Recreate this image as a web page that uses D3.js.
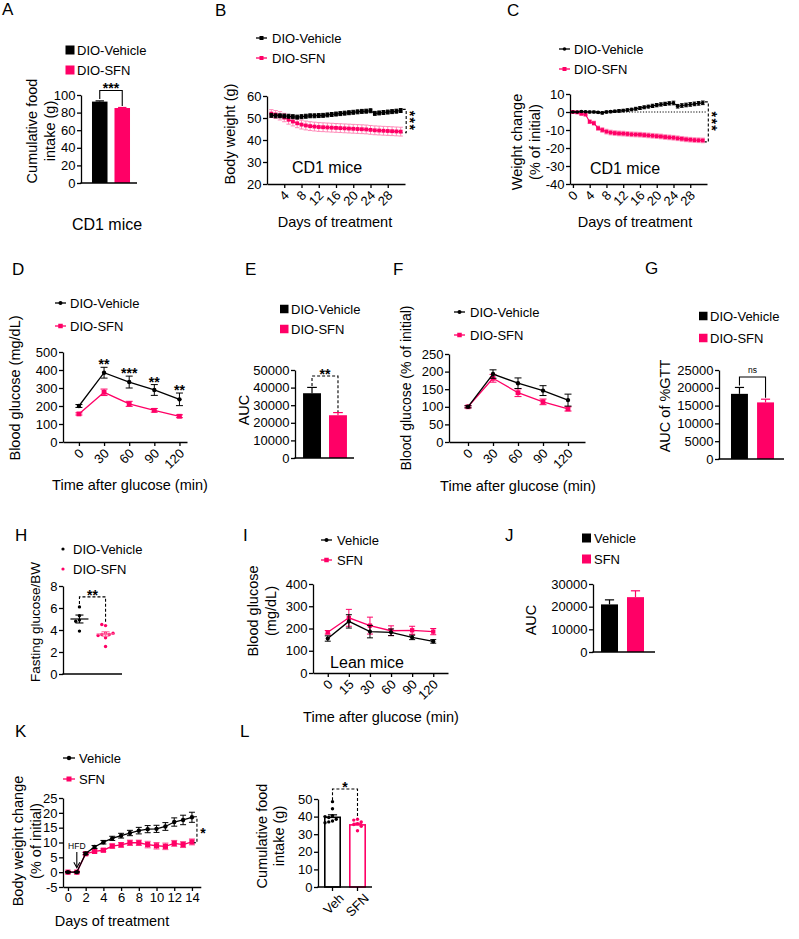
<!DOCTYPE html>
<html><head><meta charset="utf-8">
<script src="https://cdn.jsdelivr.net/npm/d3@7"></script>
<style>
html,body{margin:0;padding:0;background:#fff;}
svg{display:block;}
</style></head><body>
<script>
// ---------------- DATA ----------------
// Panel A
const aGroups = ["DIO-Vehicle", "DIO-SFN"];
const aMeans = [92.5, 85.2];
const aSEM = [0.8, 0.6];
const aYTicks = [0, 20, 40, 60, 80, 100];
// Panel B
const bDays = [1,2,3,4,5,6,7,8,9,10,11,12,13,14,15,16,17,18,19,20,21,22,23,24,25,26,27,28,29,30,31];
const bVehicle = [51.2,51.0,51.0,50.9,50.8,50.6,50.4,50.6,50.8,51.0,51.0,51.1,51.2,51.4,51.6,51.8,52.0,52.2,52.4,52.6,52.8,53.0,53.1,53.3,52.1,52.3,52.5,52.7,52.9,53.1,53.4];
const bVehicleSEM = [0.9,0.9,0.9,0.9,0.9,0.9,0.9,0.9,0.9,0.9,0.9,0.9,0.9,0.9,0.9,0.9,0.9,0.9,0.9,0.9,0.9,0.9,0.9,0.9,0.9,0.9,0.9,0.9,0.9,0.9,0.9];
const bSFN = [52.0,51.6,51.0,50.2,49.2,48.4,47.6,47.0,46.6,46.3,46.1,45.9,45.8,45.7,45.6,45.5,45.4,45.3,45.2,45.1,45.0,44.9,44.8,44.6,44.4,44.3,44.2,44.1,44.0,43.9,43.8];
const bSFNSEM = [1.8,1.8,1.9,1.9,2.0,2.0,2.0,2.0,2.0,2.0,2.0,2.0,2.0,2.0,2.0,2.0,2.0,2.0,2.0,2.0,2.0,2.0,2.0,2.0,2.0,2.0,2.0,2.0,2.0,2.0,2.0];
const bXTicks = [4, 8, 12, 16, 20, 24, 28];
const bYTicks = [20, 30, 40, 50, 60];
// Panel C
const cDays = [0,1,2,3,4,5,6,7,8,9,10,11,12,13,14,15,16,17,18,19,20,21,22,23,24,25,26,27,28,29,30,31];
const cVehicle = [0,0,0.3,0.1,0,0,-0.2,-0.5,0,0.2,0.4,0.6,0.8,1.1,1.4,1.8,2.2,2.6,3.0,3.4,3.8,4.2,4.5,4.8,5.0,3.2,3.6,3.9,4.2,4.5,4.8,5.1];
const cVehicleSEM = [0.3,0.3,0.4,0.4,0.5,0.5,0.5,0.6,0.6,0.6,0.6,0.7,0.7,0.7,0.7,0.8,0.8,0.8,0.8,0.9,0.9,0.9,0.9,0.9,1.0,1.0,1.0,1.0,1.0,1.0,1.0,1.0];
const cSFN = [0,-0.2,-1.0,-1.4,-5.4,-6.2,-9.0,-10.0,-10.9,-11.4,-11.7,-11.9,-12.0,-12.2,-12.4,-12.5,-12.6,-12.8,-13.0,-13.2,-13.4,-13.6,-13.9,-14.1,-14.3,-14.6,-14.9,-15.2,-15.4,-15.6,-15.7,-15.8];
const cSFNSEM = [0.3,0.4,0.6,0.7,1.0,1.1,1.2,1.3,1.3,1.3,1.3,1.3,1.3,1.3,1.3,1.3,1.3,1.3,1.3,1.3,1.3,1.3,1.3,1.3,1.3,1.3,1.3,1.3,1.3,1.3,1.3,1.3];
const cXTicks = [0, 4, 8, 12, 16, 20, 24, 28];
const cYTicks = [-40, -30, -20, -10, 0, 10];
// Panel D
const dTimes = [0, 30, 60, 90, 120];
const dVehicle = [200, 385, 333, 289, 237];
const dVehicleSEM = [8, 30, 33, 30, 35];
const dSFN = [156, 276, 212, 176, 143];
const dSFNSEM = [6, 18, 14, 10, 8];
const dStars = ["", "**", "***", "**", "**"];
const dYTicks = [0, 100, 200, 300, 400, 500];
// Panel E
const eGroups = ["DIO-Vehicle", "DIO-SFN"];
const eMeans = [36800, 24300];
const eSEM = [3300, 1500];
const eYTicks = [0, 10000, 20000, 30000, 40000, 50000];
// Panel F
const fTimes = [0, 30, 60, 90, 120];
const fVehicle = [100, 193, 167, 146, 119];
const fVehicleSEM = [3, 12, 15, 14, 17];
const fSFN = [100, 181, 140, 114, 94];
const fSFNSEM = [3, 11, 11, 8, 6];
const fYTicks = [0, 50, 100, 150, 200, 250];
// Panel G
const gGroups = ["DIO-Vehicle", "DIO-SFN"];
const gMeans = [18300, 15900];
const gSEM = [1800, 900];
const gYTicks = [0, 5000, 10000, 15000, 20000, 25000];
// Panel H
const hGroups = ["DIO-Vehicle", "DIO-SFN"];
const hVehicle = [6.1, 5.3, 4.9, 4.8, 3.9];
const hSFN = [4.4, 4.5, 3.7, 3.6, 3.6, 3.5, 3.3, 2.5, 3.7];
const hMeans = [5.0, 3.64];
const hSEM = [0.36, 0.2];
const hYTicks = [0, 2, 4, 6, 8];
// Panel I
const iTimes = ["0", "15", "30", "60", "90", "120"];
const iVehicle = [155, 232, 186, 183, 160, 142];
const iVehicleSEM = [12, 30, 28, 15, 10, 8];
const iSFN = [183, 248, 213, 190, 192, 186];
const iSFNSEM = [8, 38, 38, 22, 18, 14];
const iYTicks = [0, 100, 200, 300, 400];
// Panel J
const jGroups = ["Vehicle", "SFN"];
const jMeans = [21000, 24200];
const jSEM = [2000, 2800];
const jYTicks = [0, 10000, 20000, 30000];
// Panel K
const kDays = [0,1,2,3,4,5,6,7,8,9,10,11,12,13,14];
const kVehicle = [0,0,6.3,8.5,10.1,11.4,12.3,13.2,14.0,14.5,14.6,15.4,16.9,17.6,18.5];
const kVehicleSEM = [0.2,0.2,0.4,0.5,0.6,0.7,0.8,0.9,1.1,1.2,1.2,1.3,1.4,1.6,1.7];
const kSFN = [0,0,6.2,7.0,7.4,8.8,9.2,9.9,9.9,9.3,8.9,8.7,9.7,9.3,10.2];
const kSFNSEM = [0.2,0.2,0.4,0.5,0.5,0.7,0.8,0.9,0.9,1.1,1.1,1.1,1.0,1.0,1.0];
const kXTicks = [0, 2, 4, 6, 8, 10, 12, 14];
const kYTicks = [-5, 0, 5, 10, 15, 20, 25];
// Panel L
const lGroups = ["Veh", "SFN"];
const lMeans = [39.6, 35.3];
const lSEM = [1.4, 0.9];
const lVehDots = [48.5, 44.5, 40.5, 39.5, 38.5, 37.5, 37.0, 36.5, 40.0];
const lSFNDots = [38.5, 38.0, 37.0, 36.0, 35.5, 34.5, 32.0];
const lYTicks = [0, 10, 20, 30, 40, 50];

// ---------------- DRAWING ----------------
const FONT = "'Liberation Sans', Arial, Helvetica, sans-serif";
const BLACK = "#000000";
const PINK = "#ff0066";
const svg = d3.select("body").append("svg").attr("width", 799).attr("height", 939)
  .style("font-family", FONT);

function text(x, y, s, o = {}) {
  const t = svg.append("text").attr("x", x).attr("y", y).text(s)
    .attr("font-size", o.size || 13).attr("fill", o.fill || BLACK)
    .attr("text-anchor", o.anchor || "start");
  if (o.weight) t.attr("font-weight", o.weight);
  if (o.dy) t.attr("dy", o.dy);
  if (o.ls) t.attr("letter-spacing", o.ls);
  if (o.rot) t.attr("transform", `rotate(${o.rot},${x},${y})`);
  return t;
}
function vTitle(x, y, s, size = 14.5) { return text(x, y, s, {size, anchor: "middle", dy: "0.35em", rot: -90}); }
function hTitle(x, y, s, size = 14.5) { return text(x, y, s, {size, anchor: "middle", dy: "0.35em"}); }
function pLabel(s, x, y) { return text(x, y, s, {size: 17}); }

function styleAxis(g) {
  g.attr("font-family", FONT).attr("font-size", 13);
  g.select(".domain").attr("stroke", BLACK).attr("stroke-width", 1.3);
  g.selectAll(".tick line").attr("stroke", BLACK).attr("stroke-width", 1.3);
  g.selectAll(".tick text").attr("fill", BLACK);
}
function yAxis(x0, scale, ticks) {
  const g = svg.append("g").attr("transform", `translate(${x0},0)`)
    .call(d3.axisLeft(scale).tickValues(ticks).tickFormat(d => String(d)).tickSize(4).tickSizeOuter(0).tickPadding(1.5));
  styleAxis(g); return g;
}
function xAxis(y0, scale, ticks, rotate, fmt, off) {
  const ax = d3.axisBottom(scale).tickValues(ticks).tickSize(4).tickSizeOuter(0).tickPadding(2)
    .tickFormat(fmt || (d => String(d)));
  const g = svg.append("g").attr("transform", `translate(0,${y0})`).call(ax);
  styleAxis(g);
  if (rotate) {
    const o = off || [2, 9];
    g.selectAll(".tick text").attr("x", 0).attr("y", 0).attr("dy", "0.35em")
      .attr("transform", `translate(${o[0]},${o[1]}) rotate(-45)`).style("text-anchor", "end");
  }
  return g;
}
function hLine(x1, x2, y) {
  svg.append("line").attr("x1", x1).attr("x2", x2).attr("y1", y).attr("y2", y)
    .attr("stroke", BLACK).attr("stroke-width", 1.3);
}
function marker(g, x, y, color, type, s) {
  if (type === "square") g.append("rect").attr("x", x - s / 2).attr("y", y - s / 2).attr("width", s).attr("height", s).attr("fill", color);
  else g.append("circle").attr("cx", x).attr("cy", y).attr("r", s / 2).attr("fill", color);
}
function drawSeries(xs, ys, es, xS, yS, color, type, o = {}) {
  const g = svg.append("g");
  const cap = o.cap || 3;
  const eg = g.append("g").attr("stroke", color).attr("stroke-width", o.ew || 1).attr("opacity", o.eop || 1);
  xs.forEach((xv, i) => {
    const x = xS(xv), y1 = yS(ys[i] - es[i]), y2 = yS(ys[i] + es[i]);
    eg.append("line").attr("x1", x).attr("x2", x).attr("y1", y1).attr("y2", y2);
    eg.append("line").attr("x1", x - cap).attr("x2", x + cap).attr("y1", y1).attr("y2", y1);
    eg.append("line").attr("x1", x - cap).attr("x2", x + cap).attr("y1", y2).attr("y2", y2);
  });
  const line = d3.line().x((d, i) => xS(xs[i])).y(d => yS(d));
  g.append("path").datum(ys).attr("d", line).attr("fill", "none").attr("stroke", color).attr("stroke-width", o.lw || 1.3);
  xs.forEach((xv, i) => marker(g, xS(xv), yS(ys[i]), color, type, o.ms || 4.5));
}
function legendLine(x1, x2, y, color, type, s, label, tx) {
  svg.append("line").attr("x1", x1).attr("x2", x2).attr("y1", y).attr("y2", y).attr("stroke", color).attr("stroke-width", 1.3);
  marker(svg, (x1 + x2) / 2, y, color, type, s);
  text(tx, y, label, {dy: "0.35em"});
}
function legendBox(x, y, s, color, label, tx) {
  svg.append("rect").attr("x", x).attr("y", y - s / 2).attr("width", s).attr("height", s).attr("fill", color);
  text(tx, y, label, {dy: "0.35em"});
}
function legendDot(x, y, color, label, tx) {
  svg.append("circle").attr("cx", x).attr("cy", y).attr("r", 1.6).attr("fill", color);
  text(tx, y, label, {dy: "0.35em"});
}
function bars(groups, means, sems, xS, yS, colors, outline) {
  groups.forEach((gn, i) => {
    const x = xS(gn), w = xS.bandwidth(), cx = x + w / 2;
    const ym = yS(means[i]), ye = yS(means[i] + sems[i]);
    svg.append("line").attr("x1", cx).attr("x2", cx).attr("y1", ym).attr("y2", ye).attr("stroke", colors[i]).attr("stroke-width", 1.2);
    svg.append("line").attr("x1", cx - w * 0.27).attr("x2", cx + w * 0.27).attr("y1", ye).attr("y2", ye).attr("stroke", colors[i]).attr("stroke-width", 1.2);
    if (outline) {
      svg.append("rect").attr("x", x + 0.8).attr("y", ym).attr("width", w - 1.6).attr("height", yS(0) - ym)
        .attr("fill", "none").attr("stroke", colors[i]).attr("stroke-width", 1.6);
    } else {
      svg.append("rect").attr("x", x).attr("y", ym).attr("width", w).attr("height", yS(0) - ym).attr("fill", colors[i]);
    }
  });
}
function bracket(x1, x2, yTop, yL, yR, dashed, label, size, weight) {
  svg.append("path").attr("d", `M${x1},${yL}V${yTop}H${x2}V${yR}`).attr("fill", "none")
    .attr("stroke", BLACK).attr("stroke-width", 1.1).attr("stroke-dasharray", dashed ? "3,2" : null);
  const sz = size || 14;
  const base = label === "ns" ? yTop - 4.5 : yTop - 5 + 0.57 * sz;
  text((x1 + x2) / 2, base, label, {anchor: "middle", size: sz, weight: weight === undefined ? "bold" : weight});
}
function vBracket(xL, x, y1, y2, nStars) {
  svg.append("path").attr("d", `M${xL},${y1}H${x}V${y2}H${xL}`).attr("fill", "none")
    .attr("stroke", BLACK).attr("stroke-width", 1.1).attr("stroke-dasharray", "3,2");
  const mid = (y1 + y2) / 2;
  if (nStars === 1) {
    text(x + 6, mid + 0.57 * 14, "*", {anchor: "middle", size: 14, weight: "bold"});
  } else {
    text(x + 7, mid, "*".repeat(nStars), {anchor: "middle", size: 14, weight: "bold", rot: 90, dy: "0.57em", ls: 1.5});
  }
}
function swarm(vals, cx, yS, r, color) {
  const placed = [];
  vals.forEach(v => {
    const y = yS(v);
    const cands = [0, -1, 1, -2, 2, -3, 3, -4, 4];
    for (const c of cands) {
      const x = cx + c * (r * 2.2);
      if (placed.every(p => Math.hypot(p[0] - x, p[1] - y) >= r * 2.1)) { placed.push([x, y]); break; }
    }
  });
  placed.forEach(p => svg.append("circle").attr("cx", p[0]).attr("cy", p[1]).attr("r", r).attr("fill", color));
}

// ===== Panel A =====
pLabel("A", 2, 15);
legendBox(65.5, 50, 9, BLACK, "DIO-Vehicle", 77);
legendBox(65.5, 70, 9, PINK, "DIO-SFN", 77);
{
  const y = d3.scaleLinear().domain([0, 100]).range([183, 95]);
  const x = d3.scaleBand().domain(aGroups).range([82, 140]).paddingInner(0.31).paddingOuter(0.444);
  bars(aGroups, aMeans, aSEM, x, y, [BLACK, PINK], false);
  yAxis(81, y, aYTicks);
  hLine(80.4, 137, 183);
  const c0 = x(aGroups[0]) + x.bandwidth() / 2, c1 = x(aGroups[1]) + x.bandwidth() / 2;
  bracket(c0, c1, y(aMeans[0] + aSEM[0]) - 10.4, y(aMeans[0] + aSEM[0]) - 2, y(aMeans[1] + aSEM[1]) - 1.5, false, "***", 14);
  vTitle(32, 131, "Cumulative food");
  vTitle(50, 131, "intake (g)");
  hTitle(107, 224, "CD1 mice", 16);
}

// ===== Panel B =====
pLabel("B", 215, 15.5);
legendLine(256, 267, 38, BLACK, "square", 4, "DIO-Vehicle", 272);
legendLine(256, 267, 58, PINK, "square", 4, "DIO-SFN", 272);
{
  const y = d3.scaleLinear().domain([20, 60]).range([184, 96]);
  const x = d3.scaleLinear().domain([0, 32]).range([267, 405]);
  drawSeries(bDays, bSFN, bSFNSEM, x, y, PINK, "square", {ms: 3.8, cap: 2.2, eop: 0.45, lw: 1.1});
  drawSeries(bDays, bVehicle, bVehicleSEM, x, y, BLACK, "square", {ms: 3.8, cap: 1.8, lw: 1.1});
  yAxis(267, y, bYTicks);
  xAxis(184, x, bXTicks, true);
  vBracket(x(31) + 2, x(31) + 5.5, y(bVehicle[30] + 0.5), y(bSFN[30] - 0.5), 3);
  vTitle(230, 134, "Body weight  (g)");
  hTitle(327, 167, "CD1 mice", 16);
  hTitle(335, 222, "Days of treatment");
}

// ===== Panel C =====
pLabel("C", 507, 15.5);
legendLine(559, 570, 49, BLACK, "circle", 3.6, "DIO-Vehicle", 574);
legendLine(559, 570, 69, PINK, "square", 4, "DIO-SFN", 574);
{
  const y = d3.scaleLinear().domain([-40, 10]).range([184, 94]);
  const x = d3.scaleLinear().domain([-0.7, 32]).range([570, 707]);
  svg.append("line").attr("x1", x(0)).attr("x2", 707).attr("y1", y(0)).attr("y2", y(0))
    .attr("stroke", BLACK).attr("stroke-width", 1).attr("stroke-dasharray", "1.2,1.6");
  drawSeries(cDays, cSFN, cSFNSEM, x, y, PINK, "square", {ms: 3.8, cap: 2, eop: 0.45, lw: 1.1});
  drawSeries(cDays, cVehicle, cVehicleSEM, x, y, BLACK, "circle", {ms: 3.6, cap: 1.8, lw: 1.1});
  yAxis(570, y, cYTicks);
  xAxis(184, x, cXTicks, true);
  vBracket(x(31) + 2, x(31) + 5.5, y(cVehicle[31] + 0.5), y(cSFN[31] - 0.8), 3);
  vTitle(517, 142, "Weight change");
  vTitle(535, 142, "(% of initial)");
  hTitle(625, 168, "CD1 mice", 16);
  hTitle(635, 222, "Days of treatment");
}

// ===== Panel D =====
pLabel("D", 12, 275);
legendLine(55, 66, 303, BLACK, "circle", 4, "DIO-Vehicle", 70);
legendLine(55, 66, 326, PINK, "square", 4.5, "DIO-SFN", 70);
{
  const y = d3.scaleLinear().domain([0, 500]).range([442, 352]);
  const x = d3.scaleLinear().domain([-19, 129]).range([63, 187]);
  drawSeries(dTimes, dSFN, dSFNSEM, x, y, PINK, "square", {ms: 4.8, cap: 3.5, lw: 1.3});
  drawSeries(dTimes, dVehicle, dVehicleSEM, x, y, BLACK, "circle", {ms: 4.4, cap: 3.5, lw: 1.3});
  yAxis(63, y, dYTicks);
  xAxis(442, x, dTimes, true);
  dTimes.forEach((t, i) => {
    if (dStars[i]) text(x(t), y(dVehicle[i] + dVehicleSEM[i]) + 2, dStars[i], {anchor: "middle", size: 14, weight: "bold"});
  });
  vTitle(15, 388, "Blood glucose (mg/dL)");
  hTitle(130, 485, "Time after glucose (min)");
}

// ===== Panel E =====
pLabel("E", 245, 275);
legendBox(280, 309, 8.5, BLACK, "DIO-Vehicle", 291);
legendBox(280, 329, 8.5, PINK, "DIO-SFN", 291);
{
  const y = d3.scaleLinear().domain([0, 50000]).range([458, 370]);
  const x = d3.scaleBand().domain(eGroups).range([295, 355]).paddingInner(0.31).paddingOuter(0.31);
  bars(eGroups, eMeans, eSEM, x, y, [BLACK, PINK], false);
  yAxis(295, y, eYTicks);
  hLine(294.4, 354, 458);
  const c0 = x(eGroups[0]) + x.bandwidth() / 2, c1 = x(eGroups[1]) + x.bandwidth() / 2;
  const t0 = y(eMeans[0] + eSEM[0]);
  bracket(c0, c1, t0 - 11.4, t0 - 1.5, y(eMeans[1] + eSEM[1]) - 0.5, true, "**", 14);
  vTitle(244, 410, "AUC");
}

// ===== Panel F =====
pLabel("F", 393, 275);
legendLine(454, 465, 312, BLACK, "circle", 4, "DIO-Vehicle", 470);
legendLine(454, 465, 335, PINK, "square", 4.5, "DIO-SFN", 470);
{
  const y = d3.scaleLinear().domain([0, 250]).range([442, 354]);
  const x = d3.scaleLinear().domain([-22.8, 140.4]).range([449, 585]);
  drawSeries(fTimes, fSFN, fSFNSEM, x, y, PINK, "square", {ms: 4.8, cap: 3.5, lw: 1.3});
  drawSeries(fTimes, fVehicle, fVehicleSEM, x, y, BLACK, "circle", {ms: 4.4, cap: 3.5, lw: 1.3});
  yAxis(449, y, fYTicks);
  xAxis(442, x, fTimes, true);
  vTitle(406, 388, "Blood glucose (% of initial)", 14);
  hTitle(518, 486, "Time after glucose (min)");
}

// ===== Panel G =====
pLabel("G", 645, 274);
legendBox(699, 316, 8.5, BLACK, "DIO-Vehicle", 710);
legendBox(699, 338, 8.5, PINK, "DIO-SFN", 710);
{
  const y = d3.scaleLinear().domain([0, 25000]).range([459, 370]);
  const x = d3.scaleBand().domain(gGroups).range([719, 786]).paddingInner(0.35).paddingOuter(0.46);
  bars(gGroups, gMeans, gSEM, x, y, [BLACK, PINK], false);
  yAxis(719, y, gYTicks);
  hLine(718.4, 784, 459);
  const c0 = x(gGroups[0]) + x.bandwidth() / 2, c1 = x(gGroups[1]) + x.bandwidth() / 2;
  const t0 = y(gMeans[0] + gSEM[0]);
  bracket(c0, c1, t0 - 10.4, t0 - 2, y(gMeans[1] + gSEM[1]) - 1.5, false, "ns", 8.5, "normal");
  vTitle(665, 406, "AUC of %GTT");
}

// ===== Panel H =====
pLabel("H", 15, 541);
legendDot(63, 549, BLACK, "DIO-Vehicle", 73);
legendDot(63, 569, PINK, "DIO-SFN", 73);
{
  const y = d3.scaleLinear().domain([0, 8]).range([674, 586]);
  const x = d3.scalePoint().domain(hGroups).range([63, 122]).padding(0.63);
  const cols = [BLACK, PINK];
  [hVehicle, hSFN].forEach((vals, i) => swarm(vals, x(hGroups[i]), y, 1.7, cols[i]));
  hGroups.forEach((gn, i) => {
    const cx = x(gn);
    const c = i === 0 ? BLACK : "#ff6aa0";
    svg.append("line").attr("x1", cx - 9).attr("x2", cx + 9).attr("y1", y(hMeans[i])).attr("y2", y(hMeans[i])).attr("stroke", c).attr("stroke-width", 1.2);
    svg.append("line").attr("x1", cx).attr("x2", cx).attr("y1", y(hMeans[i] - hSEM[i])).attr("y2", y(hMeans[i] + hSEM[i])).attr("stroke", c).attr("stroke-width", 1.1);
    [hMeans[i] - hSEM[i], hMeans[i] + hSEM[i]].forEach(v =>
      svg.append("line").attr("x1", cx - 4).attr("x2", cx + 4).attr("y1", y(v)).attr("y2", y(v)).attr("stroke", c).attr("stroke-width", 1.1));
  });
  yAxis(63, y, hYTicks);
  hLine(62.4, 122, 674);
  const top = y(d3.max(hVehicle));
  bracket(x(hGroups[0]), x(hGroups[1]), top - 10, top - 3, y(d3.max(hSFN)) - 2.5, true, "**", 14);
  vTitle(35, 622, "Fasting glucose/BW", 13.5);
}

// ===== Panel I =====
pLabel("I", 243, 541);
legendLine(321, 332, 540, BLACK, "circle", 4, "Vehicle", 337);
legendLine(321, 332, 560, PINK, "square", 4.5, "SFN", 337);
{
  const y = d3.scaleLinear().domain([0, 400]).range([673, 584]);
  const x = d3.scalePoint().domain(iTimes).range([313, 448]).padding(0.7);
  drawSeries(iTimes, iSFN, iSFNSEM, x, y, PINK, "square", {ms: 4.3, cap: 3, lw: 1.3});
  drawSeries(iTimes, iVehicle, iVehicleSEM, x, y, BLACK, "circle", {ms: 4.2, cap: 3, lw: 1.3});
  yAxis(313, y, iYTicks);
  xAxis(673, x, iTimes, true);
  vTitle(253, 611, "Blood glucose");
  vTitle(271, 611, "(mg/dL)");
  hTitle(367, 662, "Lean mice", 16);
  hTitle(381, 717, "Time after glucose (min)");
}

// ===== Panel J =====
pLabel("J", 505, 541);
legendBox(582, 538, 9, BLACK, "Vehicle", 594);
legendBox(582, 559, 9, PINK, "SFN", 594);
{
  const y = d3.scaleLinear().domain([0, 30000]).range([652, 584]);
  const x = d3.scaleBand().domain(jGroups).range([593, 652]).paddingInner(0.346).paddingOuter(0.308);
  bars(jGroups, jMeans, jSEM, x, y, [BLACK, PINK], false);
  yAxis(593, y, jYTicks);
  hLine(592.4, 655, 652);
  vTitle(531, 620, "AUC");
}

// ===== Panel K =====
pLabel("K", 15, 737);
legendLine(63, 75, 758, BLACK, "circle", 4.4, "Vehicle", 79);
legendLine(63, 75, 779, PINK, "square", 5, "SFN", 79);
{
  const y = d3.scaleLinear().domain([-5, 25]).range([887, 798]);
  const x = d3.scaleLinear().domain([-0.56, 15]).range([63, 200.8]);
  drawSeries(kDays, kSFN, kSFNSEM, x, y, PINK, "square", {ms: 5.2, cap: 3, lw: 1.4, eop: 0.7});
  drawSeries(kDays, kVehicle, kVehicleSEM, x, y, BLACK, "circle", {ms: 4.4, cap: 3, lw: 1.3});
  yAxis(63, y, kYTicks);
  xAxis(887, x, kXTicks, false);
  const hx = x(1);
  text(hx, 849, "HFD", {anchor: "middle", size: 8.5});
  svg.append("line").attr("x1", hx).attr("x2", hx).attr("y1", 852).attr("y2", y(0) - 5).attr("stroke", BLACK).attr("stroke-width", 1.1);
  svg.append("path").attr("d", `M${hx - 3},${y(0) - 10}L${hx},${y(0) - 4.5}L${hx + 3},${y(0) - 10}`).attr("fill", "none").attr("stroke", BLACK).attr("stroke-width", 1.1);
  vBracket(x(14) + 2, x(14) + 5, y(kVehicle[14] + 0.2), y(kSFN[14] - 0.3), 1);
  vTitle(18, 841, "Body weight change");
  vTitle(36, 841, "(% of initial)");
  hTitle(112, 921, "Days of treatment");
}

// ===== Panel L =====
pLabel("L", 240, 737);
{
  const y = d3.scaleLinear().domain([0, 50]).range([887, 799]);
  const x = d3.scaleBand().domain(lGroups).range([318, 372]).paddingInner(0.32).paddingOuter(0.24);
  bars(lGroups, lMeans, lSEM, x, y, [BLACK, PINK], true);
  const cols = [BLACK, PINK];
  [lVehDots, lSFNDots].forEach((vals, i) => swarm(vals, x(lGroups[i]) + x.bandwidth() / 2, y, 1.7, cols[i]));
  yAxis(318, y, lYTicks);
  const xc = d3.scaleOrdinal().domain(lGroups).range([x(lGroups[0]) + x.bandwidth() / 2, x(lGroups[1]) + x.bandwidth() / 2]);
  hLine(317.4, 372, 887);
  const gx = svg.append("g").attr("transform", "translate(0,887)");
  lGroups.forEach(gn => {
    const cx = xc(gn);
    gx.append("line").attr("x1", cx).attr("x2", cx).attr("y1", 0).attr("y2", 4).attr("stroke", BLACK).attr("stroke-width", 1.3);
    gx.append("text").attr("x", 0).attr("y", 0).attr("dy", "0.35em").attr("font-size", 13).attr("text-anchor", "end")
      .attr("transform", `translate(${cx + 9},${9}) rotate(-45)`).text(gn);
  });
  const c0 = xc(lGroups[0]), c1 = xc(lGroups[1]);
  const top = y(d3.max(lVehDots));
  bracket(c0, c1, top - 12.6, top - 1.5, y(d3.max(lSFNDots)) - 1, true, "*", 14);
  vTitle(262, 836, "Cumulative food");
  vTitle(279, 836, "intake (g)");
}
</script></body></html>
